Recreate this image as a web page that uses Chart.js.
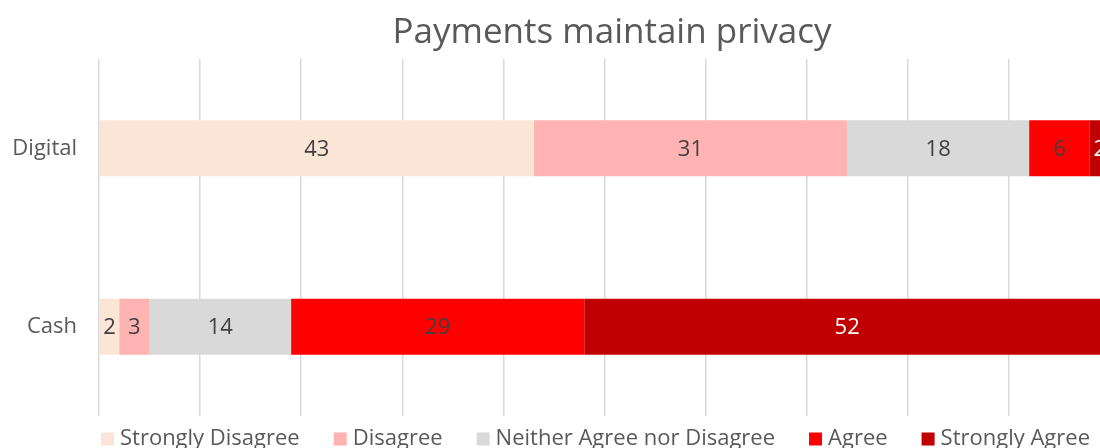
<!DOCTYPE html>
<html>
<head>
<meta charset="utf-8">
<script src="https://cdn.jsdelivr.net/npm/chart.js@4.4.1/dist/chart.umd.min.js"></script>
<style>
  html, body { margin: 0; padding: 0; overflow: hidden; background: #fff; }
  #wrap { position: absolute; left: 0; top: 0; width: 1224px; height: 470px; }
</style>
</head>
<body>
<div id="wrap"><canvas id="privacyChart"></canvas></div>
<script>
// Survey answers, percent of respondents
const categories = ['Digital', 'Cash'];
const responses = ['Strongly Disagree', 'Disagree', 'Neither Agree nor Disagree', 'Agree', 'Strongly Agree'];
const stronglyDisagree = [43, 2];
const disagree = [31, 3];
const neither = [18, 14];
const agree = [6, 29];
const stronglyAgree = [2, 52];

const seriesValues = [stronglyDisagree, disagree, neither, agree, stronglyAgree];
const seriesColors = ['#FBE5D6', '#FFB3B3', '#D9D9D9', '#FF0000', '#C00000'];
const labelColors = ['#404040', '#404040', '#404040', '#404040', '#FFFFFF'];

const FONT = '"Open Sans", "Noto Sans", sans-serif';

// value labels in the middle of each segment
const segmentLabels = {
  id: 'segmentLabels',
  afterDatasetsDraw(chart) {
    const ctx = chart.ctx;
    ctx.save();
    ctx.font = '22px ' + FONT;
    ctx.textAlign = 'center';
    ctx.textBaseline = 'middle';
    chart.data.datasets.forEach((ds, i) => {
      chart.getDatasetMeta(i).data.forEach((bar, j) => {
        const c = bar.getCenterPoint();
        ctx.fillStyle = labelColors[i];
        ctx.fillText(String(ds.data[j]), c.x, c.y + 1);
      });
    });
    ctx.restore();
  }
};

// legend row under the plot
const bottomLegend = {
  id: 'bottomLegend',
  afterDraw(chart) {
    const ctx = chart.ctx;
    const box = 13, gap = 6, spacing = 34;
    ctx.save();
    ctx.font = '22px ' + FONT;
    ctx.textBaseline = 'middle';
    const widths = chart.data.datasets.map(ds => box + gap + ctx.measureText(ds.label).width);
    const total = widths.reduce((a, b) => a + b, 0) + spacing * (widths.length - 1);
    let x = (chart.chartArea.left + chart.chartArea.right) / 2 - 9 - total / 2;
    const y = chart.chartArea.bottom + 23;
    chart.data.datasets.forEach((ds, i) => {
      ctx.fillStyle = ds.backgroundColor;
      ctx.fillRect(x, y - box / 2, box, box);
      ctx.fillStyle = '#595959';
      ctx.fillText(ds.label, x + box + gap, y);
      x += widths[i] + spacing;
    });
    ctx.restore();
  }
};

new Chart(document.getElementById('privacyChart'), {
  type: 'bar',
  data: {
    labels: categories,
    datasets: responses.map((name, i) => ({
      label: name,
      data: seriesValues[i],
      backgroundColor: seriesColors[i],
      borderWidth: 0,
      categoryPercentage: 1,
      barPercentage: 0.314
    }))
  },
  options: {
    indexAxis: 'y',
    responsive: true,
    maintainAspectRatio: false,
    animation: false,
    layout: { padding: { left: 0, right: 0, top: 0, bottom: 54 } },
    plugins: {
      legend: { display: false },
      tooltip: { enabled: false },
      title: {
        display: true,
        text: 'Payments maintain privacy',
        color: '#595959',
        font: { family: FONT, size: 35, weight: 'normal' },
        padding: { top: 12, bottom: 5 }
      }
    },
    scales: {
      x: {
        stacked: true,
        min: 0,
        max: 100,
        ticks: { display: false, stepSize: 10 },
        grid: { color: '#D9D9D9', lineWidth: 1.5, drawTicks: false },
        border: { display: false },
        afterFit(scale) { scale.height = 0; }
      },
      y: {
        stacked: true,
        ticks: { color: '#595959', padding: 22, font: { family: FONT, size: 22 } },
        grid: { display: false, drawTicks: false },
        border: { display: false },
        afterFit(scale) { scale.width = 99; }
      },
      // empty strip on the right so the title centres on the whole canvas
      yRight: {
        type: 'category',
        position: 'right',
        labels: categories,
        ticks: { display: false },
        grid: { display: false, drawTicks: false },
        border: { display: false },
        afterFit(scale) { scale.width = 114; }
      }
    }
  },
  plugins: [segmentLabels, bottomLegend]
});
</script>
</body>
</html>
